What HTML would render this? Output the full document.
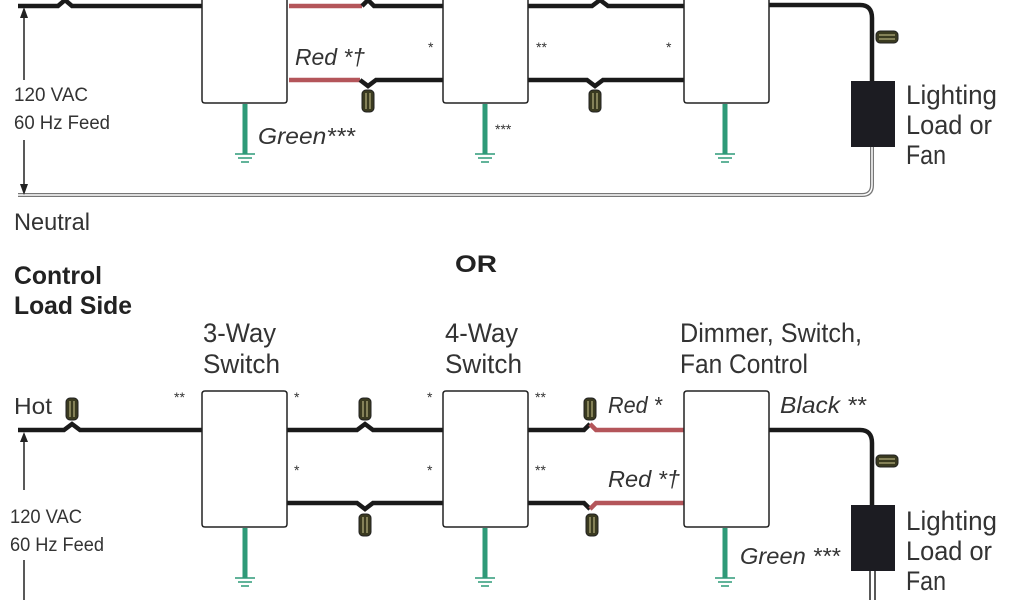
<!DOCTYPE html>
<html><head><style>
html,body{margin:0;padding:0;background:#fff;}
svg{display:block}
text{font-family:"Liberation Sans Narrow","Liberation Sans",sans-serif;fill:#333;}
.it{font-style:italic}
.b{font-weight:bold;fill:#222}
</style></head><body>
<svg width="1024" height="600" viewBox="0 0 1024 600" xmlns="http://www.w3.org/2000/svg">
<defs>
<g id="nutV"><rect x="-6" y="-11" width="12" height="22" rx="4" fill="#3a3a20" stroke="#222" stroke-width="1"/><line x1="-2" y1="-8" x2="-2" y2="8" stroke="#cfc890" stroke-width="1"/><line x1="2" y1="-8" x2="2" y2="8" stroke="#cfc890" stroke-width="1"/></g>
<g id="nutH"><rect x="-11" y="-6" width="22" height="12" rx="4" fill="#3a3a20" stroke="#222" stroke-width="1"/><line x1="-8" y1="-2" x2="8" y2="-2" stroke="#cfc890" stroke-width="1"/><line x1="-8" y1="2" x2="8" y2="2" stroke="#cfc890" stroke-width="1"/></g>
<g id="gnd"><line x1="0" y1="0" x2="0" y2="50" stroke="#2e9a78" stroke-width="5"/><line x1="-10" y1="50" x2="10" y2="50" stroke="#2e9a78" stroke-width="1.5"/><line x1="-7" y1="54" x2="7" y2="54" stroke="#2e9a78" stroke-width="1.5"/><line x1="-4" y1="58" x2="4" y2="58" stroke="#2e9a78" stroke-width="1.5"/></g>
</defs>
<g fill="none" stroke-linecap="butt">
<path d="M18 6 H58 L65 0 L72 6 H202" stroke="#1a1a1a" stroke-width="4.5"/>
<path d="M289 6 H362" stroke="#b4555a" stroke-width="4.5"/>
<path d="M362 6 L368 0 L374 6 H443" stroke="#1a1a1a" stroke-width="4.5"/>
<path d="M528 6 H592 L600 0 L608 6 H684" stroke="#1a1a1a" stroke-width="4.5"/>
<path d="M769 5 H860 Q872 5 872 18 V82" stroke="#1a1a1a" stroke-width="4.5"/>
<path d="M289 80 H360" stroke="#b4555a" stroke-width="4.5"/>
<path d="M360 80 L368 86 L376 80 H443" stroke="#1a1a1a" stroke-width="4.5"/>
<path d="M528 80 H587 L595 86 L603 80 H684" stroke="#1a1a1a" stroke-width="4.5"/>
<path d="M18 195 H862 Q872 195 872 185 V147" stroke="#777" stroke-width="4"/>
<path d="M18 195 H862 Q872 195 872 185 V147" stroke="#fff" stroke-width="1.5"/>
<path d="M24 10 V80 M24 140 V192" stroke="#222" stroke-width="1.5"/>
<path d="M202 -5 V100 Q202 103 205 103 H284 Q287 103 287 100 V-5" stroke="#222" stroke-width="1.5"/>
<path d="M443 -5 V100 Q443 103 446 103 H525 Q528 103 528 100 V-5" stroke="#222" stroke-width="1.5"/>
<path d="M684 -5 V100 Q684 103 687 103 H766 Q769 103 769 100 V-5" stroke="#222" stroke-width="1.5"/>
<path d="M18 430 H64 L72 424 L80 430 H202" stroke="#1a1a1a" stroke-width="4.5"/>
<path d="M287 430 H357 L365 424 L373 430 H443" stroke="#1a1a1a" stroke-width="4.5"/>
<path d="M287 503 H357 L365 509 L373 503 H443" stroke="#1a1a1a" stroke-width="4.5"/>
<path d="M528 430 H584 L590 424" stroke="#1a1a1a" stroke-width="4.5"/>
<path d="M590 424 L596 430 H684" stroke="#b4555a" stroke-width="4.5"/>
<path d="M528 503 H584 L590 509" stroke="#1a1a1a" stroke-width="4.5"/>
<path d="M590 509 L596 503 H684" stroke="#b4555a" stroke-width="4.5"/>
<path d="M769 430 H860 Q872 430 872 443 V506" stroke="#1a1a1a" stroke-width="4.5"/>
<path d="M870 570 V600 M875 570 V600" stroke="#222" stroke-width="1.5"/>
<path d="M24 434 V490 M24 560 V600" stroke="#222" stroke-width="1.5"/>
<path d="M205 391 H284 Q287 391 287 394 V524 Q287 527 284 527 H205 Q202 527 202 524 V394 Q202 391 205 391Z" stroke="#222" stroke-width="1.5"/>
<path d="M446 391 H525 Q528 391 528 394 V524 Q528 527 525 527 H446 Q443 527 443 524 V394 Q443 391 446 391Z" stroke="#222" stroke-width="1.5"/>
<path d="M687 391 H766 Q769 391 769 394 V524 Q769 527 766 527 H687 Q684 527 684 524 V394 Q684 391 687 391Z" stroke="#222" stroke-width="1.5"/>
</g>
<path d="M20 18 L24 7 L28 18Z M20 184 L24 195 L28 184Z M20 442 L24 432 L28 442Z" fill="#222"/>
<rect x="851" y="81" width="44" height="66" fill="#1c1c22"/>
<rect x="851" y="505" width="44" height="66" fill="#1c1c22"/>
<use href="#gnd" x="245" y="104"/><use href="#gnd" x="485" y="104"/><use href="#gnd" x="725" y="104"/>
<use href="#gnd" x="245" y="528"/><use href="#gnd" x="485" y="528"/><use href="#gnd" x="725" y="528"/>
<use href="#nutV" x="368" y="101"/><use href="#nutV" x="595" y="101"/><use href="#nutH" x="887" y="37"/>
<use href="#nutV" x="72" y="409"/><use href="#nutV" x="365" y="409"/><use href="#nutV" x="365" y="525"/>
<use href="#nutV" x="590" y="409"/><use href="#nutV" x="592" y="525"/><use href="#nutH" x="887" y="461"/>
<text x="295" y="65" font-size="23" class="it" textLength="70" lengthAdjust="spacingAndGlyphs">Red *†</text>
<text x="428" y="52" font-size="14">*</text>
<text x="536" y="52" font-size="14">**</text>
<text x="666" y="52" font-size="14">*</text>
<text x="258" y="144" font-size="23" class="it" textLength="97" lengthAdjust="spacingAndGlyphs">Green***</text>
<text x="495" y="134" font-size="14">***</text>
<text x="14" y="101" font-size="19" textLength="74" lengthAdjust="spacingAndGlyphs">120 VAC</text>
<text x="14" y="129" font-size="19" textLength="96" lengthAdjust="spacingAndGlyphs">60 Hz Feed</text>
<text x="906" y="104" font-size="27" textLength="91" lengthAdjust="spacingAndGlyphs">Lighting</text>
<text x="906" y="134" font-size="27" textLength="86" lengthAdjust="spacingAndGlyphs">Load or</text>
<text x="906" y="164" font-size="27" textLength="40" lengthAdjust="spacingAndGlyphs">Fan</text>
<text x="14" y="230" font-size="24" textLength="76" lengthAdjust="spacingAndGlyphs">Neutral</text>
<text x="455" y="272" font-size="24" class="b" textLength="42" lengthAdjust="spacingAndGlyphs">OR</text>
<text x="14" y="284" font-size="25" class="b" textLength="88" lengthAdjust="spacingAndGlyphs">Control</text>
<text x="14" y="314" font-size="25" class="b" textLength="118" lengthAdjust="spacingAndGlyphs">Load Side</text>
<text x="203" y="342" font-size="27" textLength="73" lengthAdjust="spacingAndGlyphs">3-Way</text>
<text x="203" y="373" font-size="27" textLength="77" lengthAdjust="spacingAndGlyphs">Switch</text>
<text x="445" y="342" font-size="27" textLength="73" lengthAdjust="spacingAndGlyphs">4-Way</text>
<text x="445" y="373" font-size="27" textLength="77" lengthAdjust="spacingAndGlyphs">Switch</text>
<text x="680" y="342" font-size="27" textLength="182" lengthAdjust="spacingAndGlyphs">Dimmer, Switch,</text>
<text x="680" y="373" font-size="27" textLength="128" lengthAdjust="spacingAndGlyphs">Fan Control</text>
<text x="14" y="414" font-size="23" textLength="38" lengthAdjust="spacingAndGlyphs">Hot</text>
<text x="174" y="402" font-size="14">**</text>
<text x="294" y="402" font-size="14">*</text>
<text x="294" y="475" font-size="14">*</text>
<text x="427" y="402" font-size="14">*</text>
<text x="427" y="475" font-size="14">*</text>
<text x="535" y="402" font-size="14">**</text>
<text x="535" y="475" font-size="14">**</text>
<text x="608" y="413" font-size="23" class="it" textLength="54" lengthAdjust="spacingAndGlyphs">Red *</text>
<text x="608" y="487" font-size="23" class="it" textLength="72" lengthAdjust="spacingAndGlyphs">Red *†</text>
<text x="780" y="413" font-size="23" class="it" textLength="86" lengthAdjust="spacingAndGlyphs">Black **</text>
<text x="740" y="564" font-size="23" class="it" textLength="100" lengthAdjust="spacingAndGlyphs">Green ***</text>
<text x="10" y="523" font-size="19" textLength="72" lengthAdjust="spacingAndGlyphs">120 VAC</text>
<text x="10" y="551" font-size="19" textLength="94" lengthAdjust="spacingAndGlyphs">60 Hz Feed</text>
<text x="906" y="530" font-size="27" textLength="91" lengthAdjust="spacingAndGlyphs">Lighting</text>
<text x="906" y="560" font-size="27" textLength="86" lengthAdjust="spacingAndGlyphs">Load or</text>
<text x="906" y="590" font-size="27" textLength="40" lengthAdjust="spacingAndGlyphs">Fan</text>
</svg>
</body></html>
